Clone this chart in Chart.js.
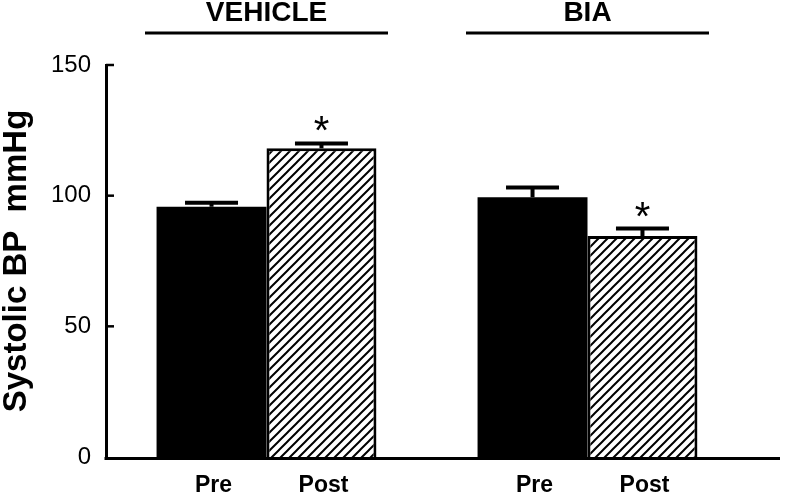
<!DOCTYPE html>
<html><head><meta charset="utf-8">
<script src="https://cdn.jsdelivr.net/npm/chart.js@4"></script>
<style>html,body{margin:0;padding:0;background:#fff}#wrap{width:800px;height:494px}</style>
</head><body><div id="wrap"><canvas id="c" width="800" height="494"></canvas></div>
<script>
const groups = ['VEHICLE', 'BIA'];
const phases = ['Pre', 'Post'];
const preValues = [95.8, 99.4];
const preErrors = [1.5, 3.7];
const postValues = [118.1, 84.6];
const postErrors = [1.9, 2.8];
const postSignificance = ['*', '*'];
const yTicks = [0, 50, 100, 150];
const yTitle = 'Systolic BP  mmHg';

const FONT = "'Liberation Sans', Arial, sans-serif";

function hatch() {
  const s = 9, c = document.createElement('canvas');
  c.width = s; c.height = s;
  const x = c.getContext('2d');
  x.fillStyle = '#fff'; x.fillRect(0, 0, s, s);
  x.strokeStyle = '#000'; x.lineWidth = 2;
  x.beginPath();
  x.moveTo(-1, s + 1); x.lineTo(s + 1, -1);
  x.moveTo(-2, 2); x.lineTo(2, -2);
  x.moveTo(s - 2, s + 2); x.lineTo(s + 2, s - 2);
  x.stroke();
  return x.createPattern(c, 'repeat');
}
const ctx0 = document.getElementById('c').getContext('2d');

const decor = {
  id: 'decor',
  afterDatasetsDraw(chart) {
    const ctx = chart.ctx, ca = chart.chartArea, y = chart.scales.y, xs = chart.scales.x;
    ctx.save();
    // x axis line (extended)
    ctx.strokeStyle = '#000'; ctx.lineWidth = 3;
    ctx.beginPath(); ctx.moveTo(ca.left - 1.5, ca.bottom + 1.5); ctx.lineTo(780, ca.bottom + 1.5); ctx.stroke();
    // inner y ticks
    ctx.lineWidth = 2.5;
    y.ticks.forEach(t => {
      if (t.value === 0) return;
      const py = y.getPixelForValue(t.value);
      ctx.beginPath(); ctx.moveTo(ca.left, py); ctx.lineTo(ca.left + 8, py); ctx.stroke();
    });
    // error bars + labels
    const errs = [preErrors, postErrors];
    const vals = [preValues, postValues];
    chart.data.datasets.forEach((ds, di) => {
      const meta = chart.getDatasetMeta(di);
      meta.data.forEach((bar, i) => {
        const top = y.getPixelForValue(vals[di][i] + errs[di][i]);
        const base = y.getPixelForValue(vals[di][i]);
        ctx.strokeStyle = '#000'; ctx.lineWidth = 4;
        ctx.beginPath();
        ctx.moveTo(bar.x, base); ctx.lineTo(bar.x, top);
        ctx.moveTo(bar.x - 26.5, top); ctx.lineTo(bar.x + 26.5, top);
        ctx.stroke();
        ctx.fillStyle = '#000';
        ctx.textAlign = 'center'; ctx.textBaseline = 'middle';
        ctx.font = 'bold 23px ' + FONT;
        ctx.fillText(phases[di], bar.x + 2, 486);
        if (di === 1 && postSignificance[i]) {
          ctx.font = '40px ' + FONT;
          ctx.textBaseline = 'alphabetic';
          ctx.fillText(postSignificance[i], bar.x, top + 1);
        }
      });
    });
    // group headers
    groups.forEach((g, i) => {
      const cx = xs.getPixelForValue(i);
      ctx.fillStyle = '#000';
      ctx.font = 'bold 28px ' + FONT;
      ctx.textAlign = 'center'; ctx.textBaseline = 'middle';
      ctx.fillText(g, cx, 13);
      ctx.lineWidth = 3;
      ctx.beginPath(); ctx.moveTo(cx - 121.5, 33); ctx.lineTo(cx + 121.5, 33); ctx.stroke();
    });
    ctx.restore();
  }
};

new Chart(ctx0, {
  type: 'bar',
  data: {
    labels: groups,
    datasets: [
      { label: phases[0], data: preValues, backgroundColor: '#000', borderWidth: 0 },
      { label: phases[1], data: postValues, backgroundColor: hatch(), borderColor: '#000', borderWidth: 3 }
    ]
  },
  options: {
    responsive: false,
    animation: false,
    layout: { padding: { top: 65, right: 52, left: 0, bottom: 0 } },
    datasets: { bar: { categoryPercentage: 0.685, barPercentage: 1.0 } },
    plugins: { legend: { display: false }, tooltip: { enabled: false } },
    scales: {
      x: {
        ticks: { display: false },
        grid: { display: false, drawTicks: false },
        border: { display: false },
        afterFit: s => { s.height = 37; }
      },
      y: {
        min: 0, max: 150,
        afterBuildTicks: s => { s.ticks = yTicks.map(v => ({ value: v })); },
        ticks: { color: '#000', padding: 15, font: { size: 24, family: FONT } },
        grid: { display: false, drawTicks: false },
        border: { display: true, color: '#000', width: 3 },
        title: { display: true, text: yTitle, color: '#000', font: { size: 33, weight: 'bold', family: FONT, lineHeight: 1.0 }, padding: { top: 0, bottom: 0 } },
        afterFit: s => { s.width = 106; }
      }
    }
  },
  plugins: [decor]
});
</script>
</body></html>
